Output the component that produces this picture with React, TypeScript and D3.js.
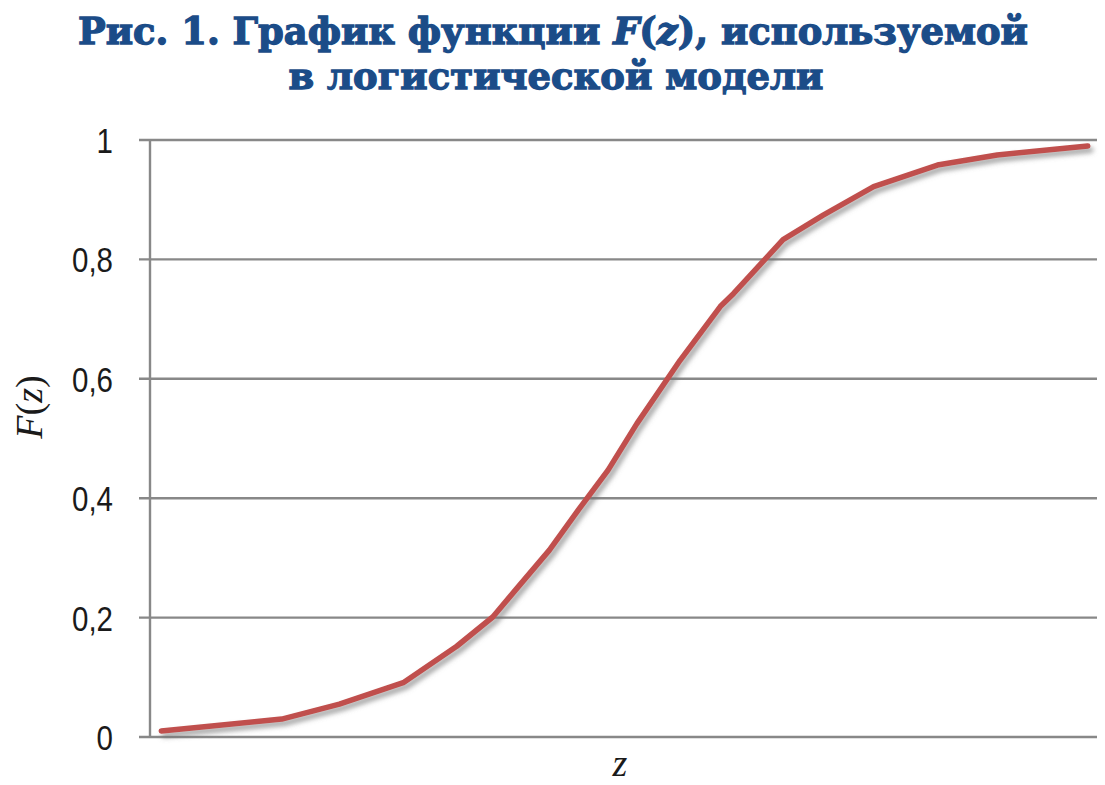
import { useEffect } from 'react';
import * as d3 from 'd3';

// values (z has no printed ticks)
const zValues = [
  -4.49, -3.32, -2.76, -2.14, -1.62, -1.27, -1.05, -0.72, -0.44, -0.15, 0.13,
  0.55, 0.94, 1.07, 1.55, 1.94, 2.43, 3.05, 3.63, 4.51,
];
const fValues = [
  0.01, 0.03, 0.055, 0.091, 0.152, 0.201, 0.246, 0.313, 0.38, 0.447, 0.525,
  0.631, 0.721, 0.743, 0.833, 0.874, 0.922, 0.958, 0.975, 0.99,
];
const yTicks = [0, 0.2, 0.4, 0.6, 0.8, 1];

const titleLines = ['Рис. 1. График функции ', 'в логистической модели'];

const WIDTH = 1105;
const HEIGHT = 785;
const TITLE_COLOR = '#1B4C88';
const LINE_COLOR = '#C0504D';
const GRID_COLOR = '#888888';

const ruLocale = d3.formatLocale({
  decimal: ',',
  thousands: '\u00a0',
  grouping: [3],
  currency: ['', ''],
});
const tickFormat = ruLocale.format('.1~f');

export default function App() {
  useEffect(() => {
    document.body.style.margin = '0';
  }, []);

  const x = d3.scaleLinear().domain([-4.6, 4.6]).range([150, 1097]);
  const y = d3.scaleLinear().domain([0, 1]).range([737, 140]);

  const points = zValues.map((z, i) => [z, fValues[i]] as [number, number]);
  const line = d3
    .line<[number, number]>()
    .x((d) => x(d[0]))
    .y((d) => y(d[1]));

  const [x0, x1] = x.range();

  return (
    <svg width={WIDTH} height={HEIGHT} style={{ display: 'block' }}>
      <defs>
        <filter id="shadow" x="-5%" y="-5%" width="110%" height="115%">
          <feDropShadow
            dx="3"
            dy="4"
            stdDeviation="2.5"
            floodColor="#6f6f6f"
            floodOpacity="0.65"
          />
        </filter>
      </defs>
      <rect width={WIDTH} height={HEIGHT} fill="#ffffff" />

      <g
        fill={TITLE_COLOR}
        stroke={TITLE_COLOR}
        strokeWidth={1.3}
        fontFamily="'DejaVu Serif', serif"
        fontWeight={700}
        fontSize={37}
        textAnchor="middle"
      >
        <text x={553} y={44} textLength={950} lengthAdjust="spacingAndGlyphs">
          {titleLines[0]}
          <tspan fontStyle="italic">F</tspan>(<tspan fontStyle="italic">z</tspan>),
          используемой
        </text>
        <text x={556} y={89} textLength={535} lengthAdjust="spacingAndGlyphs">
          {titleLines[1]}
        </text>
      </g>

      <g stroke={GRID_COLOR} strokeWidth={2.4}>
        {yTicks.map((t) => (
          <line key={t} x1={x0 - 11} x2={x1} y1={y(t)} y2={y(t)} />
        ))}
        <line x1={x0} x2={x0} y1={y(1)} y2={y(0)} />
      </g>

      <g
        fontFamily="'Liberation Sans', Arial, sans-serif"
        fontSize={36}
        fill="#1a1a1a"
        textAnchor="end"
      >
        {yTicks.map((t) => (
          <text
            key={t}
            transform={`translate(113,${y(t)}) scale(0.82,1)`}
            dy="0.36em"
          >
            {tickFormat(t)}
          </text>
        ))}
      </g>

      <path
        d={line(points) ?? ''}
        fill="none"
        stroke={LINE_COLOR}
        strokeWidth={5.5}
        strokeLinejoin="round"
        strokeLinecap="round"
        filter="url(#shadow)"
      />

      <text
        transform="translate(42,407) rotate(-90)"
        textAnchor="middle"
        fontFamily="'Liberation Serif', 'Times New Roman', serif"
        fontSize={38}
        fill="#1a1a1a"
      >
        <tspan fontStyle="italic">F</tspan>(<tspan fontStyle="italic">z</tspan>)
      </text>
      <text
        x={620}
        y={776}
        textAnchor="middle"
        fontFamily="'Liberation Serif', 'Times New Roman', serif"
        fontStyle="italic"
        fontSize={38}
        fill="#1a1a1a"
      >
        z
      </text>
    </svg>
  );
}
